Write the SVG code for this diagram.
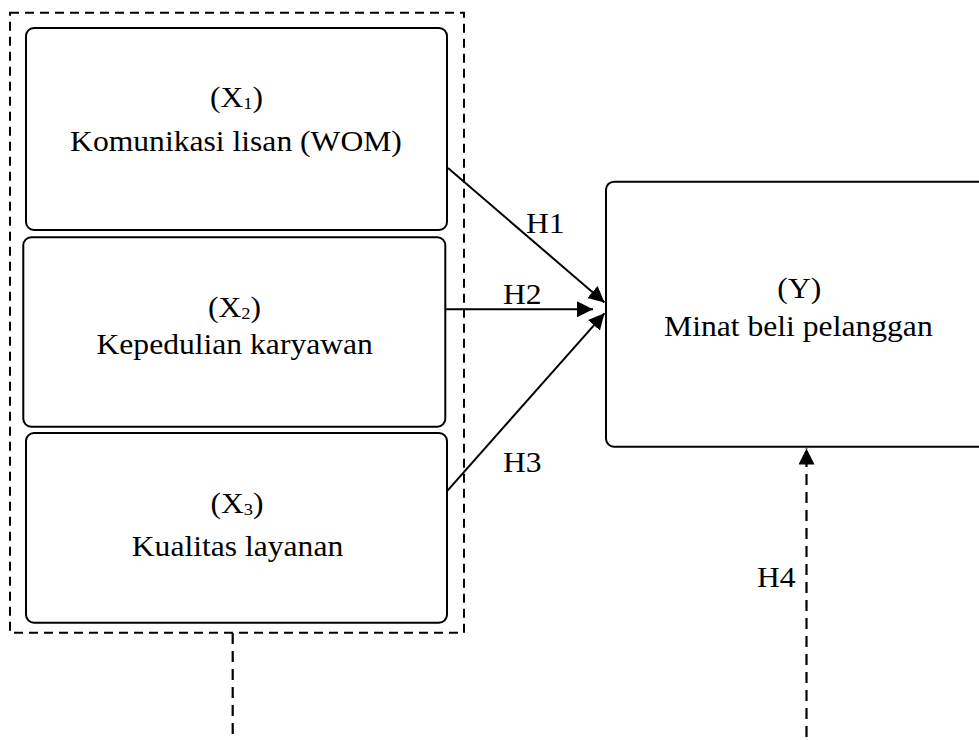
<svg xmlns="http://www.w3.org/2000/svg" width="979" height="740" viewBox="0 0 979 740">
<style>
.box{fill:#fff;stroke:#000;stroke-width:2}
.grp{fill:none;stroke:#000;stroke-width:2;stroke-dasharray:9 6}
.dl{fill:none;stroke:#000;stroke-width:2.2;stroke-dasharray:11 7}
.ar{fill:none;stroke:#000;stroke-width:2}
text{font-family:"Liberation Serif","Times New Roman",serif;font-size:29px;fill:#000}
.c{text-anchor:middle}
.sub{font-size:17px}
</style>
<defs>
<marker id="ah" markerUnits="userSpaceOnUse" markerWidth="16" markerHeight="16" viewBox="0 0 15 15" refX="15" refY="7.5" orient="auto">
<path d="M0,0 L15,7.5 L0,15 z" fill="#000"/>
</marker>
</defs>
<rect width="979" height="740" fill="#fff"/>
<rect id="group" class="grp" x="10" y="12.7" width="454" height="620"/>
<g id="X1">
<rect class="box" x="26" y="28" width="421" height="202" rx="8"/>
<text class="c" transform="translate(236.5,107.3) scale(1.09,1)">(X<tspan class="sub" dy="2">1</tspan><tspan dy="-2">)</tspan></text>
<text class="c" transform="translate(236,150.7) scale(1.09,1)">Komunikasi lisan (WOM)</text>
</g>
<g id="X2">
<rect class="box" x="23.3" y="237.3" width="422" height="189.4" rx="8"/>
<text class="c" transform="translate(234.5,317.3) scale(1.09,1)">(X<tspan class="sub" dy="2">2</tspan><tspan dy="-2">)</tspan></text>
<text class="c" transform="translate(234.7,354) scale(1.09,1)">Kepedulian karyawan</text>
</g>
<g id="X3">
<rect class="box" x="26" y="433" width="421" height="189.7" rx="8"/>
<text class="c" transform="translate(237,512.7) scale(1.09,1)">(X<tspan class="sub" dy="2">3</tspan><tspan dy="-2">)</tspan></text>
<text class="c" transform="translate(237.5,555.7) scale(1.09,1)">Kualitas layanan</text>
</g>
<g id="Y">
<rect class="box" x="606" y="181.7" width="400" height="265" rx="8"/>
<text class="c" transform="translate(799.3,298.3) scale(1.09,1)">(Y)</text>
<text class="c" transform="translate(798.4,335.7) scale(1.09,1)">Minat beli pelanggan</text>
</g>
<g id="connectors">
<line class="ar" x1="448" y1="168" x2="604.5" y2="302.5" marker-end="url(#ah)"/>
<line class="ar" x1="445.3" y1="309.3" x2="593" y2="309.3" marker-end="url(#ah)"/>
<line class="ar" x1="447.5" y1="490.7" x2="604.5" y2="313.3" marker-end="url(#ah)"/>
<line class="dl" x1="232.7" y1="633" x2="232.7" y2="737"/>
<line class="dl" x1="806.5" y1="737" x2="806.5" y2="448.5" marker-end="url(#ah)"/>
<text transform="translate(526,232.7) scale(1.09,1)">H1</text>
<text transform="translate(503,304) scale(1.09,1)">H2</text>
<text transform="translate(503,471.7) scale(1.09,1)">H3</text>
<text transform="translate(757,586.7) scale(1.09,1)">H4</text>
</g>
</svg>
